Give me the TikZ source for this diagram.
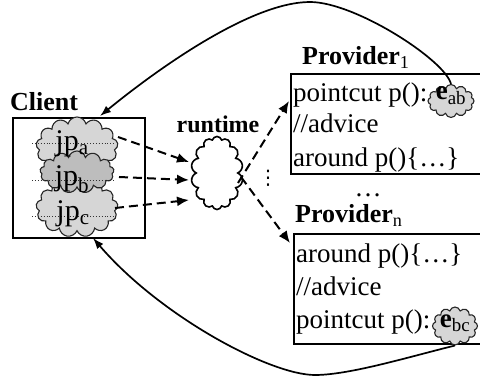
\documentclass[tikz,border=0pt]{standalone}
\usepackage{fontspec}
\setmainfont{Liberation Serif}
\newfontfamily\dejavu{DejaVu Sans}
\usetikzlibrary{shapes.symbols,arrows.meta}
\definecolor{cloudlight}{HTML}{D6D6D6}
\definecolor{clouddark}{HTML}{BDBDBD}
\begin{document}
\begin{tikzpicture}[x=1pt,y=-1pt,
  txt/.style={inner sep=0pt, font=\fontsize{27}{30}\selectfont, anchor=base west},
  jp/.style={inner sep=0pt, font=\fontsize{30}{32}\selectfont, anchor=base},
  lbl/.style={inner sep=0pt, font=\fontsize{26}{30}\selectfont\bfseries, anchor=base west},
  cl/.style={cloud, cloud puffs=13, cloud ignores aspect, draw=black!85, line width=1.1pt, inner sep=0pt},
  dsh/.style={dash pattern=on 9pt off 5pt, line width=2pt, -{Latex[length=12pt,width=10pt]}},
  crv/.style={line width=1.7pt, -{Latex[length=11pt,width=8pt]}},
  box/.style={draw, line width=2.4pt, inner sep=0pt, anchor=north west},
  dot/.style={dotted, line width=0.9pt, black!80},
  ]
\useasboundingbox (0,0) rectangle (480,377);

% Client
\node[lbl] (clientlbl) at (10,111) {Client};
\node[box, minimum width=132pt, minimum height=120pt] (client) at (12,117) {};
\node[cl, fill=cloudlight, minimum width=82pt, minimum height=60pt] (ca) at (77,147) {};
\node[cl, fill=cloudlight, minimum width=82pt, minimum height=58pt] (cc) at (77,208) {};
\node[cl, fill=clouddark, minimum width=74pt, minimum height=42pt] (cb) at (77,172) {};
\coordinate (da1) at (32,143); \coordinate (da2) at (116,143);
\coordinate (db1) at (32,180); \coordinate (db2) at (116,180);
\coordinate (dc1) at (32,216); \coordinate (dc2) at (116,216);
\draw[dot] (da1) -- (da2);
\draw[dot] (db1) -- (db2);
\draw[dot] (dc1) -- (dc2);
\node[jp] (jpa) at (72,151) {jp\textsubscript{a}};
\node[jp] (jpb) at (72,186) {jp\textsubscript{b}};
\node[jp] (jpc) at (73,221) {jp\textsubscript{c}};

% runtime
\node[inner sep=0pt, font=\fontsize{24}{28}\selectfont\bfseries, anchor=base] (rtlbl) at (218,133) {runtime};
\node[cl, draw=black, line width=1.6pt, fill=white, cloud puffs=14, minimum width=52pt, minimum height=73pt] (rt) at (217,173) {};
\coordinate (sa) at (118,137); \coordinate (ea) at (189,162);
\coordinate (sb) at (119,177); \coordinate (eb) at (189,180);
\coordinate (sc) at (115,208); \coordinate (ec) at (189,200);
\draw[dsh] (sa) -- (ea);
\draw[dsh] (sb) -- (eb);
\draw[dsh] (sc) -- (ec);
\node[inner sep=0pt, font=\fontsize{20}{20}\selectfont\dejavu] (vd) at (268,178) {⋮};

% Provider 1
\node[lbl] (p1lbl) at (302,65) {Provider\textsubscript{\mdseries 1}};
\node[box, minimum width=195pt, minimum height=100pt] (p1) at (290,73) {};
\node[txt] (p1a) at (293,102) {pointcut p():};
\node[txt] (p1b) at (293,133) {//advice};
\node[txt] (p1c) at (293,167) {around p()\{…\}};
\node[cl, fill=cloudlight, cloud puffs=12, minimum width=46pt, minimum height=33pt] (eab) at (451,101) {};
\node[txt, anchor=base] (eabt) at (451,100) {\textbf{e}\textsubscript{ab}};

% dots between providers
\node[txt, anchor=base] (ell) at (368,197) {…};

% Provider n
\node[lbl] (pnlbl) at (295,223) {Provider\textsubscript{\mdseries n}};
\node[box, minimum width=195pt, minimum height=110pt] (pn) at (293,233) {};
\node[txt] (pna) at (296,263) {around p()\{…\}};
\node[txt] (pnb) at (296,295) {//advice};
\node[txt] (pnc) at (296,328) {pointcut p():};
\node[cl, fill=cloudlight, cloud puffs=12, minimum width=45pt, minimum height=38pt] (ebc) at (455,326) {};
\node[txt, anchor=base] (ebct) at (455,327) {\textbf{e}\textsubscript{bc}};

% runtime to providers
\coordinate (su) at (238,183); \coordinate (eu) at (289,101);
\coordinate (sl) at (241,177); \coordinate (el) at (290,243);
\draw[dsh] (su) -- (eu);
\draw[dsh] (sl) -- (el);

% curved arrows back to client
\coordinate (peak) at (310,2);
\coordinate (ctop) at (100,116);
\draw[crv] (eab.north) .. controls (445,60) and (355,2) .. (peak)
  .. controls (252,2) and (160,67) .. (ctop);
\coordinate (bot) at (315,375);
\coordinate (cbot) at (93,238);
\draw[crv] (ebc.south) .. controls (412,356) and (350,375) .. (bot)
  .. controls (270,375) and (160,316) .. (cbot);
\end{tikzpicture}
\end{document}
